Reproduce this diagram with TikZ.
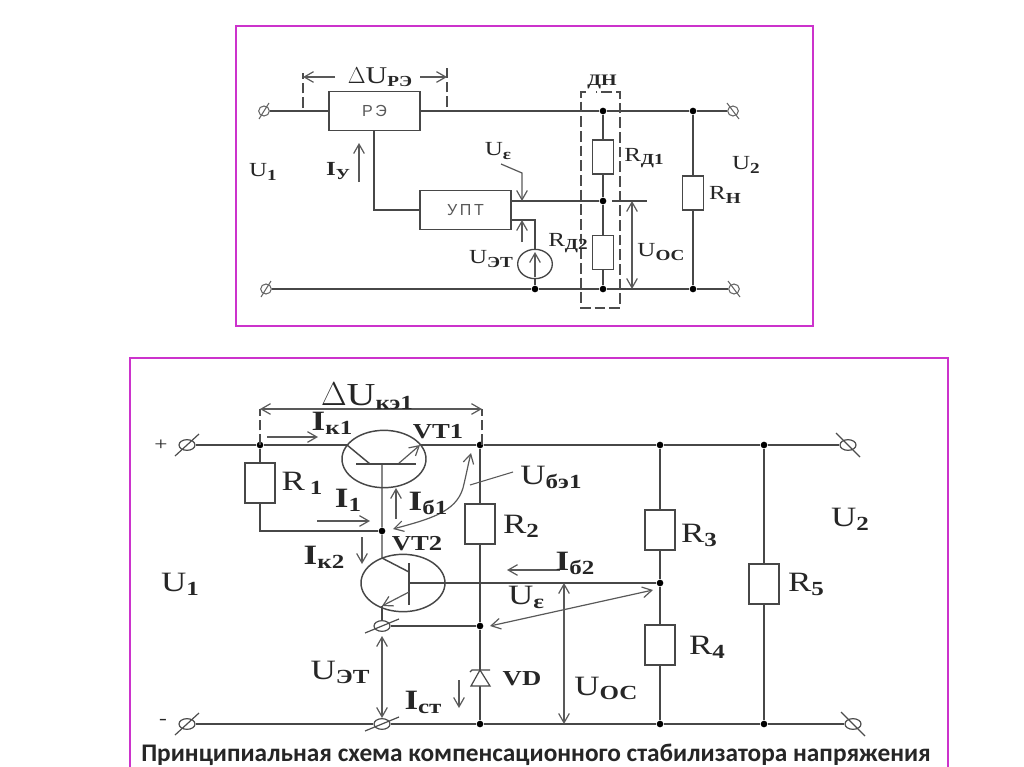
\documentclass[tikz,border=0pt]{standalone}
\usepackage{fontspec}
\setmainfont{Liberation Serif}[FakeStretch=1.25]
\setsansfont{Liberation Sans}
\newfontfamily\capfont{Carlito}
\usetikzlibrary{arrows.meta,shapes.geometric}
\definecolor{framecol}{RGB}{204,51,204}
\newcommand{\subA}[1]{\raisebox{-2.5pt}{\fontsize{11.5}{11.5}\selectfont\bfseries #1}}
\newcommand{\subB}[1]{\raisebox{-3pt}{\fontsize{15}{15}\selectfont\bfseries #1}}
\tikzset{
  wire/.style={draw=black!72,line width=1.1pt},
  arr/.style={draw=black!65,line width=0.9pt,-{Straight Barb[length=7pt,width=8pt]}},
  arrs/.style={draw=black!65,line width=0.9pt,{Straight Barb[length=7pt,width=8pt]}-{Straight Barb[length=7pt,width=8pt]}},
  dimline/.style={draw=black!70,line width=0.9pt,dash pattern=on 8pt off 3pt},
  dot/.style={circle,fill=black,inner sep=0pt,minimum size=5pt},
  block/.style={draw=black!72,line width=1.1pt,fill=white,inner sep=0pt,minimum width=68pt,minimum height=29pt,font=\sffamily\fontsize{12}{12}\selectfont,text=black!65},
  resA/.style={draw=black!72,line width=1pt,fill=white,inner sep=0pt,minimum width=15.75pt,minimum height=25.5pt},
  resB/.style={draw=black!72,line width=1.1pt,fill=white,inner sep=0pt,minimum width=22.5pt,minimum height=30pt},
  termA/.style={ellipse,draw=black!60,line width=0.8pt,inner sep=0pt,minimum width=8pt,minimum height=7.5pt},
  termB/.style={ellipse,draw=black!70,line width=0.9pt,inner sep=0pt,minimum width=12pt,minimum height=8pt},
  labA/.style={inner sep=0pt,text=black!85,font=\fontsize{15}{15}\selectfont},
  labB/.style={inner sep=0pt,text=black!85,font=\fontsize{21}{21}\selectfont},
  labV/.style={inner sep=0pt,text=black!85,font=\fontsize{16}{16}\selectfont\bfseries},
  frame/.style={draw=framecol,line width=1.6pt}
}
\begin{document}
\begin{tikzpicture}[x=0.75pt,y=-0.75pt]
\useasboundingbox (0,0) rectangle (1024,767);
% upper scheme
\draw [frame] (236,26) rectangle (813,326);
\node [block] (re) at (374.5,111) {Р\,Э};
\node [block] (upt) at (465.5,210) {У\,П\,Т};
\node [resA] (rd1) at (603,157) {};
\node [resA] (rd2) at (603,252.5) {};
\node [resA] (rn) at (693,193) {};
\node [ellipse,draw=black!72,line width=1pt,inner sep=0pt,minimum width=26pt,minimum height=22pt] (uet) at (535,264) {};
\node [termA] (t1) at (264,111) {};
\node [termA] (t2) at (266,289) {};
\node [termA] (t3) at (733,111) {};
\node [termA] (t4) at (734,289) {};
\foreach \t in {t1,t2}
  \draw [draw=black!60,line width=0.8pt] ([shift={(-5,8)}]\t.center) -- ([shift={(5,-8)}]\t.center);
\foreach \t in {t3,t4}
  \draw [draw=black!60,line width=0.8pt] ([shift={(-6,-8)}]\t.center) -- ([shift={(6,8)}]\t.center);
\node [dot] (ja) at (603,111) {};
\node [dot] (jb) at (693,111) {};
\node [dot] (jc) at (603,201) {};
\node [dot] (jd) at (535,289) {};
\node [dot] (je) at (603,289) {};
\node [dot] (jf) at (693,289) {};
\coordinate (reb) at (374,131);
\coordinate (upw) at (374,210);
\coordinate (upa) at (512,201);
\coordinate (upb) at (512,220);
\coordinate (upc) at (535,220);
\draw [wire] (t1) -- (re);
\draw [wire] (re) -- (ja) -- (jb) -- (t3);
\draw [wire] (t2) -- (jd) -- (je) -- (jf) -- (t4);
\draw [wire] (reb) -- (upw) -- (upt.west);
\draw [wire] (upa) -- (jc);
\draw [wire] (upb) -- (upc) -- (uet);
\draw [wire] (uet) -- (jd);
\draw [wire] (ja) -- (rd1) -- (jc) -- (rd2) -- (je);
\draw [wire] (jb) -- (rn) -- (jf);
% dashed divider box and sizes
\draw [dimline] (586,92) -- (581,92) -- (581,308) -- (620,308) -- (620,92) -- (596,92);
\coordinate (dla) at (303,108);
\coordinate (dlb) at (303,73);
\coordinate (dra) at (447,107);
\coordinate (drb) at (447,68);
\draw [dimline] (dla) -- (dlb);
\draw [dimline] (dra) -- (drb);
\node [labA,font=\fontsize{18}{18}\selectfont] (ldure) at (380,77) {\(\Delta\)U\subA{РЭ}};
\coordinate (dua) at (335,77);
\coordinate (dub) at (303,77);
\coordinate (duc) at (420,77);
\coordinate (dud) at (447,77);
\draw [arr] (dua) -- (dub);
\draw [arr] (duc) -- (dud);
\coordinate (iya) at (359,182);
\coordinate (iyb) at (359,143);
\draw [arr] (iya) -- (iyb);
\coordinate (uea) at (501,164);
\coordinate (ueb) at (522,173);
\coordinate (uec) at (522,201);
\coordinate (ued) at (522,242);
\coordinate (uee) at (522,220);
\draw [arr] (uea) -- (ueb) -- (uec);
\draw [arr] (ued) -- (uee);
\coordinate (uca) at (535,277);
\coordinate (ucb) at (535,252);
\draw [arr] (uca) -- (ucb);
\coordinate (oca) at (612,201);
\coordinate (ocb) at (647,201);
\coordinate (occ) at (632,201);
\coordinate (ocd) at (632,289);
\draw [wire] (oca) -- (ocb);
\draw [arrs] (occ) -- (ocd);
\node [labA] (lu1) at (263,172) {U\subA{1}};
\node [labA] (liy) at (338,171) {\textbf{I}\subA{У}};
\node [labA] (lue) at (498,151) {U\subA{ε}};
\node [labA] (luet) at (491,259) {U\subA{ЭТ}};
\node [labA,font=\fontsize{12}{12}\selectfont\bfseries] (ldn) at (602,82) {ДН};
\node [labA] (lrd1) at (644,158) {R\subA{Д1}};
\node [labA] (lrd2) at (568,243) {R\subA{Д2}};
\node [labA] (luoc) at (661,252) {U\subA{ОС}};
\node [labA] (lrn) at (725,195) {R\subA{Н}};
\node [labA] (lu2) at (746,165) {U\subA{2}};
% lower scheme
\draw [frame] (130,767) -- (130,358) -- (948,358) -- (948,767);
\node [ellipse,draw=black!72,line width=1.1pt,inner sep=0pt,minimum width=63pt,minimum height=43pt] (vt1) at (384,459) {};
\node [ellipse,draw=black!72,line width=1.1pt,inner sep=0pt,minimum width=63pt,minimum height=43pt] (vt2) at (403,583) {};
\node [resB] (r1) at (260,483) {};
\node [resB] (r2) at (480,524) {};
\node [resB] (r3) at (660,530) {};
\node [resB] (r4) at (660,645) {};
\node [resB] (r5) at (764,584) {};
\node [termB] (tp) at (187,445) {};
\node [termB] (tm) at (187,724) {};
\node [termB] (te) at (382,626) {};
\node [termB] (tf) at (382,724) {};
\node [termB] (tr) at (848,445) {};
\node [termB] (ts) at (853,724) {};
\foreach \t in {tp,tm}
  \draw [draw=black!70,line width=0.9pt] ([shift={(-12,11)}]\t.center) -- ([shift={(12,-11)}]\t.center);
\foreach \t in {te,tf}
  \draw [draw=black!70,line width=0.9pt] ([shift={(-17,7)}]\t.center) -- ([shift={(17,-7)}]\t.center);
\foreach \t in {tr,ts}
  \draw [draw=black!70,line width=0.9pt] ([shift={(-12,-12)}]\t.center) -- ([shift={(12,12)}]\t.center);
\node [dot] (ka) at (260,445) {};
\node [dot] (kb) at (480,445) {};
\node [dot] (kc) at (660,445) {};
\node [dot] (kd) at (764,445) {};
\node [dot] (ke) at (382,531) {};
\node [dot] (kf) at (480,626) {};
\node [dot] (kg) at (660,583) {};
\node [dot] (kh) at (480,724) {};
\node [dot] (ki) at (660,724) {};
\node [dot] (kj) at (764,724) {};
\coordinate (ra) at (260,531);
\coordinate (vta) at (347,445);
\coordinate (vtb) at (421,445);
\coordinate (colb) at (370,464);
\coordinate (emia) at (398,464);
\coordinate (emib) at (420,445);
\coordinate (bara) at (356,464);
\coordinate (barb) at (416,464);
\coordinate (stem) at (382,464);
\coordinate (cold) at (382,558);
\coordinate (cole) at (409,572);
\coordinate (barc) at (409,563);
\coordinate (bard) at (409,605);
\coordinate (emic) at (409,592);
\coordinate (emid) at (382,606);
\coordinate (basea) at (409,583);
\draw [wire] (tp) -- (ka) -- (vta);
\draw [wire] (vtb) -- (kb) -- (kc) -- (kd) -- (tr);
\draw [wire] (tm) -- (tf) -- (kh) -- (ki) -- (kj) -- (ts);
\draw [wire] (ka) -- (r1) -- (ra) -- (ke);
\draw [wire] (vta) -- (colb);
\draw [arr] (emia) -- (emib);
\draw [wire] (bara) -- (barb);
\draw [wire] (stem) -- (ke) -- (cold) -- (cole);
\draw [wire] (barc) -- (bard);
\draw [arr] (emic) -- (emid);
\draw [wire] (emid) -- (te);
\draw [wire] (basea) -- (kg);
\draw [wire] (te) -- (kf);
\draw [wire] (kb) -- (r2) -- (kf) -- (kh);
\draw [wire] (kc) -- (r3) -- (kg) -- (r4) -- (ki);
\draw [wire] (kd) -- (r5) -- (kj);
% zener
\draw [draw=black!72,line width=0.9pt,fill=white] (480,670) -- (490,686) -- (471,686) -- cycle;
\draw [draw=black!72,line width=0.9pt] (470,672) -- (472,670) -- (490,670);
% sizes and currents
\coordinate (dka) at (260,445);
\coordinate (dkb) at (260,409);
\coordinate (dkc) at (482,445);
\coordinate (dkd) at (482,409);
\draw [dimline] (dka) -- (dkb);
\draw [dimline] (dkc) -- (dkd);
\draw [arrs] (dkb) -- (dkd);
\coordinate (ika) at (267,437);
\coordinate (ikb) at (318,437);
\draw [arr] (ika) -- (ikb);
\coordinate (iia) at (317,521);
\coordinate (iib) at (370,521);
\draw [arr] (iia) -- (iib);
\coordinate (iba) at (396,519);
\coordinate (ibb) at (396,488);
\draw [arr] (iba) -- (ibb);
\coordinate (ica) at (362,537);
\coordinate (icb) at (362,564);
\draw [arr] (ica) -- (icb);
\coordinate (bea) at (393,529);
\coordinate (beb) at (471,453);
\draw [arrs] (bea) .. controls (430,519) and (456,512) .. (463,488) .. controls (466,476) and (468,465) .. (beb);
\coordinate (bec) at (470,485);
\coordinate (bed) at (513,472);
\draw [draw=black!65,line width=0.8pt] (bec) -- (bed);
\coordinate (iga) at (560,570);
\coordinate (igb) at (507,570);
\draw [arr] (iga) -- (igb);
\coordinate (uga) at (490,626);
\coordinate (ugb) at (653,590);
\draw [arrs] (uga) -- (ugb);
\coordinate (ooa) at (564,583);
\coordinate (oob) at (564,724);
\draw [arrs] (ooa) -- (oob);
\coordinate (eta) at (382,636);
\coordinate (etb) at (382,718);
\draw [arrs] (eta) -- (etb);
\coordinate (sta) at (459,680);
\coordinate (stb) at (459,708);
\draw [arr] (sta) -- (stb);
% labels
\node [labB,font=\fontsize{14}{14}\selectfont] (lplus) at (161,445) {+};
\node [labB,font=\fontsize{14}{14}\selectfont] (lminus) at (163,722) {-};
\node [labB,font=\fontsize{24}{24}\selectfont] (ldu) at (367,396) {\(\Delta\)U\subB{кэ1}};
\node [labB] (lik1) at (332,423) {\textbf{I}\subB{к1}};
\node [labV] (lvt1) at (438,432) {VT1};
\node [labB] (lr1) at (302,483) {R\,\subB{1}};
\node [labB] (li1) at (348,500) {\textbf{I}\subB{1}};
\node [labB] (lib1) at (428,503) {\textbf{I}\subB{б1}};
\node [labB] (lub1) at (551,477) {U\subB{бэ1}};
\node [labB] (lr2) at (521,526) {R\subB{2}};
\node [labV] (lvt2) at (417,544) {VT2};
\node [labB] (lik2) at (324,557) {\textbf{I}\subB{к2}};
\node [labB] (lu3) at (180,584) {U\subB{1}};
\node [labB] (lib2) at (575,563) {\textbf{I}\subB{б2}};
\node [labB] (lu4) at (526,597) {U\subB{ε}};
\node [labB] (lr3) at (699,535) {R\subB{3}};
\node [labB] (lr4) at (707,647) {R\subB{4}};
\node [labB] (lr5) at (806,584) {R\subB{5}};
\node [labB] (lu5) at (850,519) {U\subB{2}};
\node [labB] (luet2) at (340,672) {U\subB{ЭТ}};
\node [labV] (lvd) at (522,679) {VD};
\node [labB] (list) at (423,702) {\textbf{I}\subB{ст}};
\node [labB] (luoc2) at (606,688) {U\subB{ОС}};
\node [inner sep=0pt,font=\capfont\bfseries\fontsize{19}{19}\selectfont,text=black!85] (caption) at (536,755) {Принципиальная схема компенсационного стабилизатора напряжения};
\end{tikzpicture}
\end{document}
